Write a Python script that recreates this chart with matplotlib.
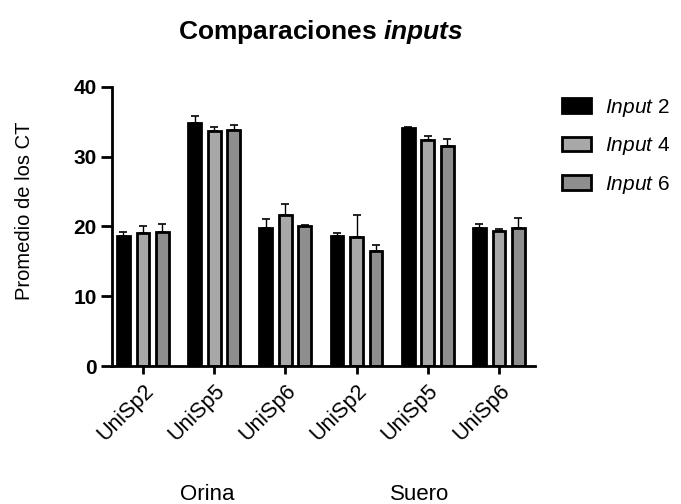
import matplotlib
matplotlib.use("Agg")
import matplotlib.pyplot as plt
import numpy as np
from matplotlib.patches import Patch

plt.rcParams['font.family'] = ['Liberation Sans', 'DejaVu Sans']
plt.rcParams['mathtext.fontset'] = 'custom'
plt.rcParams['mathtext.rm'] = 'Liberation Sans'
plt.rcParams['mathtext.it'] = 'Liberation Sans:italic'
plt.rcParams['mathtext.bf'] = 'Liberation Sans:bold'
plt.rcParams['mathtext.bfit'] = 'Liberation Sans:bold:italic'

# Data
targets = ["UniSp2", "UniSp5", "UniSp6", "UniSp2", "UniSp5", "UniSp6"]
sample_types = ["Orina", "Suero"]
series_names = ["Input 2", "Input 4", "Input 6"]
input2 = [18.7, 34.9, 19.8, 18.7, 34.1, 19.8]
input2_err = [0.5, 1.0, 1.3, 0.3, 0.1, 0.5]
input4 = [19.0, 33.7, 21.7, 18.5, 32.4, 19.4]
input4_err = [1.1, 0.6, 1.5, 3.1, 0.6, 0.2]
input6 = [19.2, 33.8, 20.1, 16.5, 31.6, 19.8]
input6_err = [1.2, 0.7, 0.1, 0.8, 0.9, 1.4]
yticks = [0, 10, 20, 30, 40]

fig = plt.figure(figsize=(6.81, 5.04), dpi=100)
ax = fig.add_axes([112 / 681, 138 / 504, (535 - 112) / 681, (366 - 87) / 504])

x = np.arange(len(targets))
pitch = 0.274
width = 0.18
colors = ["#000000", "#a8a8a8", "#8e8e8e"]
series = [(input2, input2_err), (input4, input4_err), (input6, input6_err)]

for i, ((vals, errs), col) in enumerate(zip(series, colors)):
    pos = x + (i - 1) * pitch
    ax.bar(pos, vals, width=width, color=col, edgecolor="black", linewidth=2.0, zorder=2)
    ax.errorbar(pos, vals, yerr=[np.zeros(len(vals)), errs], fmt="none",
                ecolor="black", elinewidth=1.0, capsize=3, capthick=1.2, zorder=3)

ax.set_xlim(-0.435, len(targets) - 1 + 0.506)
ax.set_ylim(0, 40)
ax.set_yticks(yticks)
ax.set_yticklabels([str(t) for t in yticks], fontsize=15, fontweight="bold")
ax.set_xticks(x)
ax.set_xticklabels(targets, rotation=45, ha="right", rotation_mode="anchor", fontsize=15.5)
ax.tick_params(axis="y", length=8, width=2, direction="out", pad=3)
ax.tick_params(axis="x", length=6, width=2, direction="out", pad=4)
for s in ["top", "right"]:
    ax.spines[s].set_visible(False)
for s in ["left", "bottom"]:
    ax.spines[s].set_linewidth(2)

fig.text(24 / 681, 1 - 211 / 504, "Promedio de los CT", rotation=90,
         ha="center", va="center", fontsize=14.5)

fig.text(321 / 681, 1 - 32 / 504, r"Comparaciones $\mathbfit{inputs}$", ha="center", va="center",
         fontsize=19, fontweight="bold")

fig.text(207 / 681, 1 - 495 / 504, sample_types[0], ha="center", va="center", fontsize=16)
fig.text(420 / 681, 1 - 495 / 504, sample_types[1], ha="center", va="center", fontsize=16)

handles = [Patch(facecolor=c, edgecolor="black", linewidth=2.0) for c in colors]
labels = [r"$\mathit{Input}$ " + n.split()[1] for n in series_names]
fig.legend(handles, labels, loc="upper left", bbox_to_anchor=(547 / 681, 1 - 82 / 504),
           frameon=False, fontsize=15, handlelength=1.4, handleheight=0.72,
           labelspacing=0.8, handletextpad=0.7, borderpad=0.2)

fig.savefig("out.png", dpi=100)
